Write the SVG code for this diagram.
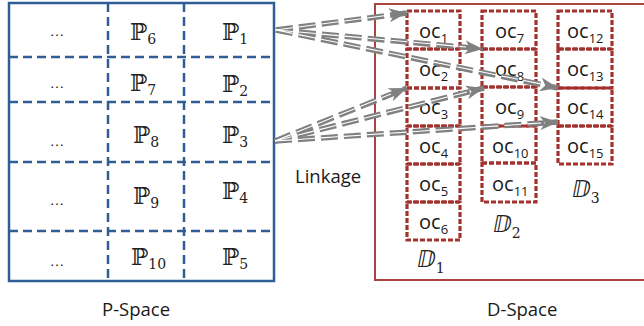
<svg xmlns="http://www.w3.org/2000/svg" width="644" height="326" viewBox="0 0 644 326">
<style>
.pbox{fill:none;stroke:#2F5D95;stroke-width:2.5}
.pdash{fill:none;stroke:#2F5D95;stroke-width:2.5;stroke-dasharray:9 5}
.dbox{fill:none;stroke:#AA4440;stroke-width:2}
.oc{fill:none;stroke:#A3322E;stroke-width:3.2;stroke-dasharray:5 2}
.lbl{font-family:"Open Sans","Liberation Sans",sans-serif;fill:#1a1a1a}
.mp{font-family:"DejaVu Serif","DejaVu Sans",serif;fill:#222;font-size:23px}
.sub{font-size:14px}
.ocT{font-family:"Open Sans","Liberation Sans",sans-serif;fill:#1a1a1a;font-size:20px}
.ocT .s{font-size:13px}
.ell{font-family:"Liberation Sans",sans-serif;font-size:15px;fill:#222}
.arr{fill:none;stroke:#808080;stroke-width:5.5;stroke-dasharray:17 6}
.arrw{fill:none;stroke:#ffffff;stroke-width:1.1;stroke-dasharray:17 6}
</style>
<defs>
<marker id="ah" markerUnits="userSpaceOnUse" markerWidth="20" markerHeight="14" refX="18" refY="7" orient="auto">
<path d="M0,0 L18,7 L0,14 L5,7 Z" fill="#808080"/>
</marker>
</defs>

<g id="p-space">
<rect class="pbox" x="9" y="3" width="265" height="278"/>
<line class="pdash" x1="9" y1="57" x2="274" y2="57"/>
<line class="pdash" x1="9" y1="102" x2="274" y2="102"/>
<line class="pdash" x1="9" y1="162" x2="274" y2="162"/>
<line class="pdash" x1="9" y1="231" x2="274" y2="231"/>
<line class="pdash" x1="108" y1="3" x2="108" y2="281"/>
<line class="pdash" x1="184" y1="3" x2="184" y2="281"/>
<text class="ell" x="57" y="36" text-anchor="middle">…</text>
<text class="ell" x="57" y="88" text-anchor="middle">…</text>
<text class="ell" x="57" y="146" text-anchor="middle">…</text>
<text class="ell" x="57" y="205" text-anchor="middle">…</text>
<text class="ell" x="57" y="266" text-anchor="middle">…</text>
<text class="mp" x="130" y="40">ℙ<tspan class="sub" dy="4">6</tspan></text>
<text class="mp" x="130" y="91">ℙ<tspan class="sub" dy="4">7</tspan></text>
<text class="mp" x="133" y="143">ℙ<tspan class="sub" dy="4">8</tspan></text>
<text class="mp" x="133" y="204">ℙ<tspan class="sub" dy="4">9</tspan></text>
<text class="mp" x="131" y="265">ℙ<tspan class="sub" dy="4">10</tspan></text>
<text class="mp" x="222" y="40">ℙ<tspan class="sub" dy="4">1</tspan></text>
<text class="mp" x="222" y="92">ℙ<tspan class="sub" dy="4">2</tspan></text>
<text class="mp" x="222" y="143">ℙ<tspan class="sub" dy="4">3</tspan></text>
<text class="mp" x="222" y="199">ℙ<tspan class="sub" dy="4">4</tspan></text>
<text class="mp" x="222" y="265">ℙ<tspan class="sub" dy="4">5</tspan></text>
</g>
<text id="p-space-label" class="lbl" x="102" y="316" font-size="18.5">P-Space</text>

<g id="d-space">
<rect class="dbox" x="375" y="4" width="280" height="276"/>
</g>
<text id="d-space-label" class="lbl" x="487" y="316" font-size="18.5">D-Space</text>
<text id="linkage" class="lbl" x="295" y="183" font-size="18.5">Linkage</text>

<g id="d1">
<rect class="oc" x="407" y="11" width="53" height="38"/>
<rect class="oc" x="407" y="49" width="53" height="39"/>
<rect class="oc" x="407" y="88" width="53" height="38"/>
<rect class="oc" x="407" y="126" width="53" height="38"/>
<rect class="oc" x="407" y="164" width="53" height="38"/>
<rect class="oc" x="407" y="202" width="53" height="38"/>
<text class="ocT" x="419" y="38">oc<tspan class="s" dy="5">1</tspan></text>
<text class="ocT" x="419" y="76">oc<tspan class="s" dy="5">2</tspan></text>
<text class="ocT" x="419" y="114">oc<tspan class="s" dy="5">3</tspan></text>
<text class="ocT" x="419" y="153">oc<tspan class="s" dy="5">4</tspan></text>
<text class="ocT" x="419" y="191">oc<tspan class="s" dy="5">5</tspan></text>
<text class="ocT" x="419" y="229">oc<tspan class="s" dy="5">6</tspan></text>
<text class="mp" x="417" y="267" font-style="italic">ⅅ<tspan class="sub" dy="6" font-style="normal">1</tspan></text>
</g>

<g id="d2">
<rect class="oc" x="482" y="11" width="54" height="38"/>
<rect class="oc" x="482" y="49" width="54" height="38"/>
<rect class="oc" x="482" y="87" width="54" height="39"/>
<rect class="oc" x="482" y="126" width="54" height="37"/>
<rect class="oc" x="482" y="163" width="54" height="39"/>
<text class="ocT" x="495" y="38">oc<tspan class="s" dy="5">7</tspan></text>
<text class="ocT" x="495" y="76">oc<tspan class="s" dy="5">8</tspan></text>
<text class="ocT" x="495" y="114">oc<tspan class="s" dy="5">9</tspan></text>
<text class="ocT" x="492" y="153">oc<tspan class="s" dy="5">10</tspan></text>
<text class="ocT" x="492" y="191">oc<tspan class="s" dy="5">11</tspan></text>
<text class="mp" x="493" y="232" font-style="italic">ⅅ<tspan class="sub" dy="6" font-style="normal">2</tspan></text>
</g>

<g id="d3">
<rect class="oc" x="558" y="11" width="54" height="38"/>
<rect class="oc" x="558" y="49" width="54" height="39"/>
<rect class="oc" x="558" y="88" width="54" height="38"/>
<rect class="oc" x="558" y="126" width="54" height="38"/>
<text class="ocT" x="567" y="38">oc<tspan class="s" dy="5">12</tspan></text>
<text class="ocT" x="567" y="76">oc<tspan class="s" dy="5">13</tspan></text>
<text class="ocT" x="567" y="114">oc<tspan class="s" dy="5">14</tspan></text>
<text class="ocT" x="567" y="153">oc<tspan class="s" dy="5">15</tspan></text>
<text class="mp" x="572" y="197" font-style="italic">ⅅ<tspan class="sub" dy="6" font-style="normal">3</tspan></text>
</g>

<g id="connectors">
<path class="arr" d="M276,30 L407,13" marker-end="url(#ah)"/>
<path class="arr" d="M276,30 L483,49" marker-end="url(#ah)"/>
<path class="arr" d="M276,30 L558,88" marker-end="url(#ah)"/>
<path class="arr" d="M275,141 L407,88" marker-end="url(#ah)"/>
<path class="arr" d="M275,141 L484,88" marker-end="url(#ah)"/>
<path class="arr" d="M275,141 L558,122" marker-end="url(#ah)"/>
<path class="arrw" d="M276,30 L390,15"/>
<path class="arrw" d="M276,30 L466,47"/>
<path class="arrw" d="M276,30 L541,84"/>
<path class="arrw" d="M275,141 L391,94"/>
<path class="arrw" d="M275,141 L467,92"/>
<path class="arrw" d="M275,141 L541,123"/>
</g>
</svg>
